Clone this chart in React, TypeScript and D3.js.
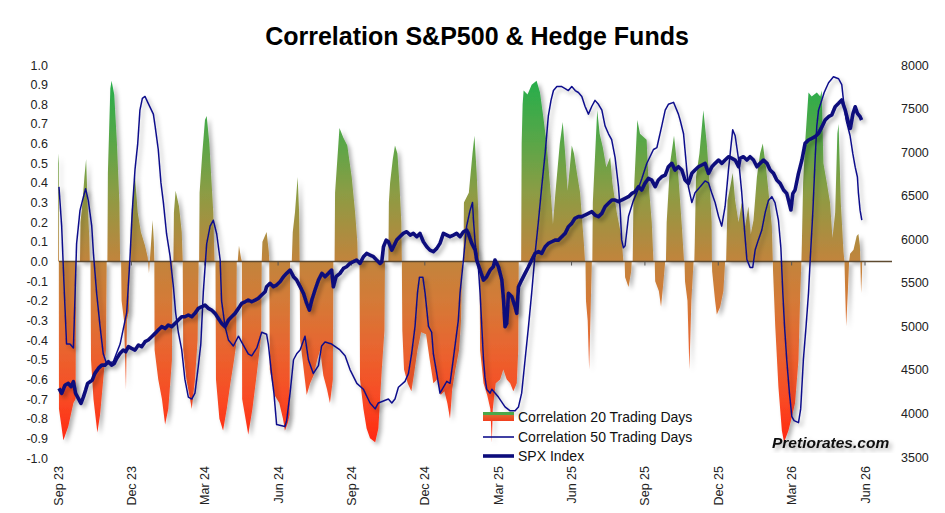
import React, { useEffect, useRef } from 'react';
import * as d3 from 'd3';

// x values are months since Sep 2023 (0 = Sep 23 label)
const quarterLabels = ['Sep 23', 'Dec 23', 'Mar 24', 'Jun 24', 'Sep 24', 'Dec 24', 'Mar 25', 'Jun 25', 'Sep 25', 'Dec 25', 'Mar 26', 'Jun 26'];
const corrTicks = [-1, -0.9, -0.8, -0.7, -0.6, -0.5, -0.4, -0.3, -0.2, -0.1, 0, 0.1, 0.2, 0.3, 0.4, 0.5, 0.6, 0.7, 0.8, 0.9, 1];
const spxTicks = [3500, 4000, 4500, 5000, 5500, 6000, 6500, 7000, 7500, 8000];

const corr20: [number, number][] = [
  [0.00, 0.55], [0.03, 0.5], [0.04, -0.75], [0.12, -0.82], [0.22, -0.91], [0.42, -0.84], [0.63, -0.72], [0.72, -0.7], [0.74, 0],
  [0.88, 0], [0.90, 0], [0.92, 0.2], [1.00, 0.3], [1.08, 0.43], [1.15, 0.52], [1.21, 0.30], [1.28, 0.12], [1.30, 0],
  [1.33, 0], [1.35, -0.5], [1.45, -0.7], [1.61, -0.87], [1.72, -0.78], [1.85, -0.6], [1.96, -0.45], [1.99, 0],
  [2.02, 0], [2.04, 0.45], [2.14, 0.88], [2.19, 0.92], [2.30, 0.85], [2.41, 0.6], [2.51, 0.3], [2.54, 0],
  [2.58, 0], [2.60, -0.2], [2.70, -0.3], [2.78, -0.65], [2.82, -0.3], [2.90, -0.25], [2.93, 0],
  [2.96, 0], [2.98, 0.2], [3.09, 0.38], [3.15, 0.43], [3.26, 0.25], [3.39, 0.15], [3.56, 0.08], [3.67, 0.02], [3.72, -0.06], [3.78, 0.05],
  [3.87, 0.21], [3.92, 0.1], [3.94, 0],
  [3.95, -0.45], [4.10, -0.6], [4.25, -0.7], [4.38, -0.83], [4.51, -0.75], [4.60, -0.6], [4.66, -0.5], [4.68, 0],
  [4.72, 0], [4.74, 0.25], [4.81, 0.36], [4.95, 0.28], [5.06, 0.15], [5.10, 0],
  [5.12, -0.45], [5.25, -0.6], [5.40, -0.7], [5.47, -0.75], [5.60, -0.6], [5.71, -0.4], [5.75, 0],
  [5.77, 0], [5.79, 0.35], [5.90, 0.55], [6.01, 0.72], [6.08, 0.74], [6.19, 0.6], [6.28, 0.4], [6.35, 0.25], [6.40, 0],
  [6.44, 0], [6.46, -0.6], [6.60, -0.8], [6.75, -0.86], [6.90, -0.75], [7.05, -0.62], [7.20, -0.5], [7.29, -0.42], [7.31, 0],
  [7.35, 0], [7.40, 0.08], [7.48, 0.02], [7.52, 0],
  [7.53, -0.7], [7.78, -0.88], [7.95, -0.75], [8.15, -0.55], [8.31, -0.38], [8.33, 0],
  [8.36, 0.1], [8.53, 0.15], [8.62, 0.05], [8.64, 0],
  [8.66, -0.55], [8.85, -0.68], [9.05, -0.72], [9.20, -0.80], [9.28, -0.86], [9.40, -0.82], [9.47, -0.78], [9.49, 0],
  [9.56, 0], [9.60, 0.15], [9.69, 0.25], [9.80, 0.43], [9.86, 0.25], [9.88, 0],
  [9.90, -0.4], [10.00, -0.5], [10.17, -0.68], [10.31, -0.62], [10.45, -0.58], [10.60, -0.5], [10.72, -0.45], [10.85, -0.58], [11.00, -0.65],
  [11.12, -0.72], [11.24, -0.6], [11.26, 0],
  [11.31, 0], [11.33, 0.35], [11.51, 0.68], [11.67, 0.63], [11.83, 0.59], [12.01, 0.43], [12.15, 0.25], [12.24, 0.1], [12.26, 0],
  [12.33, 0], [12.35, -0.6], [12.49, -0.75], [12.62, -0.85], [12.76, -0.9], [12.97, -0.92], [13.10, -0.85], [13.24, -0.55], [13.35, -0.35], [13.37, 0],
  [13.51, 0], [13.53, 0.3], [13.58, 0.4], [13.69, 0.52], [13.78, 0.59], [13.88, 0.55], [13.96, 0.4], [14.04, 0.2], [14.06, 0],
  [14.08, -0.35], [14.15, -0.55], [14.30, -0.62], [14.45, -0.66], [14.55, -0.58], [14.70, -0.45], [14.85, -0.36], [15.05, -0.37], [15.20, -0.5],
  [15.35, -0.62], [15.50, -0.6], [15.65, -0.68], [15.80, -0.66], [15.92, -0.72], [16.03, -0.80], [16.12, -0.65], [16.25, -0.55], [16.40, -0.45],
  [16.48, -0.3], [16.53, 0],
  [16.58, 0], [16.60, 0.3], [16.80, 0.35], [16.95, 0.55], [17.03, 0.64], [17.12, 0.45], [17.19, 0.25], [17.22, 0],
  [17.24, 0], [17.26, -0.45], [17.40, -0.62], [17.55, -0.68], [17.68, -0.75], [17.74, -0.92], [17.78, -0.75], [17.90, -0.62], [18.08, -0.6],
  [18.21, -0.55], [18.35, -0.6], [18.49, -0.62], [18.62, -0.66], [18.76, -0.62], [18.82, -0.45], [18.84, 0],
  [18.94, 0], [18.96, 0.6], [19.00, 0.80], [19.04, 0.87], [19.20, 0.85], [19.37, 0.90], [19.57, 0.92], [19.71, 0.86], [19.84, 0.74], [19.98, 0.6],
  [20.06, 0.48], [20.16, 0.33], [20.24, 0.19], [20.34, 0.35], [20.52, 0.6], [20.64, 0.71], [20.74, 0.55], [20.84, 0.36], [20.93, 0.48], [21.01, 0.59],
  [21.10, 0.55], [21.22, 0.45], [21.35, 0.35], [21.50, 0.1], [21.55, 0],
  [21.57, 0], [21.59, -0.2], [21.66, -0.3], [21.72, -0.55], [21.79, -0.2], [21.83, 0],
  [21.85, 0], [21.87, 0.3], [22.05, 0.77], [22.15, 0.65], [22.28, 0.58], [22.42, 0.48], [22.58, 0.53], [22.67, 0.4], [22.85, 0.25], [23.05, 0.12], [23.12, 0],
  [23.17, 0], [23.19, -0.08], [23.33, -0.13], [23.44, -0.05], [23.46, 0],
  [23.50, 0], [23.53, 0.3], [23.69, 0.72], [23.80, 0.65], [24.07, 0.62], [24.15, 0.4], [24.28, 0.2], [24.35, 0],
  [24.40, 0], [24.42, -0.1], [24.57, -0.15], [24.66, -0.23], [24.76, -0.1], [24.83, 0],
  [24.86, 0], [24.89, 0.2], [25.03, 0.5], [25.19, 0.64], [25.37, 0.43], [25.51, 0.18], [25.60, 0],
  [25.62, 0], [25.64, -0.1], [25.74, -0.2], [25.82, -0.55], [25.90, -0.2], [25.99, 0],
  [26.02, 0], [26.04, 0.1], [26.09, 0.43], [26.23, 0.55], [26.39, 0.77], [26.53, 0.6], [26.67, 0.35], [26.73, 0.2], [26.74, 0],
  [26.75, -0.05], [26.87, -0.2], [26.94, -0.27], [27.08, -0.23], [27.21, -0.15], [27.28, 0],
  [27.32, 0], [27.38, 0.31], [27.49, 0.38], [27.59, 0.45], [27.69, 0.31], [27.83, 0.2], [27.96, 0.3], [28.10, 0.18], [28.23, 0.28], [28.33, 0.14],
  [28.44, 0.21], [28.58, 0.43], [28.71, 0.55], [28.82, 0.6], [28.96, 0.47], [29.09, 0.31], [29.19, 0.18], [29.23, 0],
  [29.24, -0.05], [29.33, -0.33], [29.46, -0.64], [29.60, -0.86], [29.69, -0.92], [29.87, -0.86], [30.01, -0.79], [30.14, -0.72], [30.28, -0.5],
  [30.35, -0.17], [30.40, 0],
  [30.42, 0.1], [30.47, 0.4], [30.55, 0.6], [30.69, 0.86], [30.82, 0.84], [31.03, 0.86], [31.17, 0.84], [31.23, 0.87], [31.30, 0.5], [31.44, 0.4],
  [31.57, 0.3], [31.67, 0.12], [31.78, 0.25], [31.87, 0.65], [31.92, 0.70], [32.01, 0.3], [32.12, 0.05], [32.16, 0],
  [32.19, -0.15], [32.23, -0.33], [32.30, -0.15], [32.35, 0],
  [32.39, 0.04], [32.53, 0.06], [32.66, 0.13], [32.73, 0.14], [32.79, 0.08], [32.81, 0],
  [32.84, -0.16], [32.88, -0.05],
];

const corr50: [number, number][] = [
  [0.04, 0.38], [0.15, 0.18], [0.26, -0.16], [0.35, -0.42], [0.49, -0.42], [0.63, -0.44], [0.70, -0.16], [0.76, 0.09], [0.90, 0.26], [1.00, 0.31],
  [1.13, 0.37], [1.24, 0.31], [1.38, 0.18], [1.45, 0.04], [1.58, -0.16], [1.72, -0.33], [1.85, -0.47], [1.99, -0.52], [2.26, -0.51], [2.54, -0.42],
  [2.81, -0.26], [2.94, 0.01], [3.04, 0.26], [3.15, 0.47], [3.26, 0.60], [3.35, 0.77], [3.45, 0.83], [3.56, 0.84], [3.67, 0.81], [3.90, 0.75],
  [3.97, 0.69], [4.10, 0.57], [4.21, 0.40], [4.31, 0.30], [4.44, 0.14], [4.58, 0.03], [4.72, -0.13], [4.81, -0.26], [4.92, -0.36], [5.06, -0.45],
  [5.19, -0.60], [5.33, -0.69], [5.47, -0.70], [5.60, -0.67], [5.74, -0.53], [5.84, -0.42], [5.94, -0.16], [6.08, 0.09], [6.22, 0.18], [6.35, 0.21],
  [6.49, 0.14], [6.63, 0.01], [6.69, -0.20], [6.83, -0.33], [6.97, -0.40], [7.17, -0.43], [7.38, -0.38], [7.51, -0.41], [7.78, -0.47], [7.92, -0.48],
  [8.13, -0.44], [8.33, -0.36], [8.53, -0.37], [8.60, -0.42], [8.74, -0.58], [8.83, -0.67], [8.94, -0.83], [9.28, -0.84], [9.35, -0.81], [9.49, -0.67],
  [9.63, -0.50], [9.76, -0.47], [9.90, -0.45], [10.10, -0.38], [10.24, -0.50], [10.44, -0.57], [10.65, -0.53], [10.78, -0.43], [10.92, -0.41], [11.19, -0.42],
  [11.53, -0.45], [11.74, -0.48], [11.94, -0.55], [12.22, -0.62], [12.49, -0.65], [12.76, -0.72], [12.97, -0.75], [13.10, -0.72], [13.51, -0.70], [13.65, -0.72],
  [13.78, -0.70], [13.92, -0.64], [14.19, -0.61], [14.33, -0.57], [14.46, -0.47], [14.60, -0.33], [14.70, -0.16], [14.78, -0.08], [14.92, -0.08], [15.01, -0.16],
  [15.15, -0.33], [15.28, -0.36], [15.35, -0.47], [15.49, -0.57], [15.62, -0.67], [15.90, -0.61], [16.03, -0.62], [16.14, -0.52], [16.37, -0.30], [16.44, -0.16],
  [16.58, 0.01], [16.71, 0.18], [16.85, 0.26], [16.95, 0.30], [16.99, 0.21], [17.06, 0.09], [17.19, -0.03], [17.26, -0.16], [17.33, -0.33], [17.40, -0.50],
  [17.46, -0.59], [17.53, -0.65], [17.67, -0.67], [17.74, -0.65], [18.01, -0.69], [18.28, -0.74], [18.49, -0.76], [18.69, -0.76], [18.83, -0.74], [18.96, -0.67],
  [19.10, -0.50], [19.24, -0.33], [19.37, -0.16], [19.51, 0.04], [19.65, 0.21], [19.78, 0.38], [19.92, 0.55], [20.05, 0.74], [20.16, 0.82], [20.26, 0.87],
  [20.40, 0.89], [20.60, 0.89], [20.74, 0.88], [20.87, 0.87], [21.01, 0.89], [21.15, 0.87], [21.28, 0.86], [21.42, 0.84], [21.55, 0.79], [21.69, 0.75],
  [21.83, 0.79], [21.96, 0.82], [22.10, 0.80], [22.24, 0.77], [22.37, 0.69], [22.51, 0.65], [22.64, 0.62], [22.78, 0.53], [22.92, 0.38], [22.99, 0.26],
  [23.05, 0.11], [23.12, 0.07], [23.19, 0.08], [23.33, 0.23], [23.53, 0.31], [23.67, 0.35], [23.87, 0.42], [24.08, 0.50], [24.35, 0.57], [24.49, 0.58],
  [24.69, 0.69], [24.83, 0.77], [24.96, 0.80], [25.17, 0.81], [25.37, 0.75], [25.44, 0.72], [25.58, 0.65], [25.71, 0.47], [25.78, 0.38], [25.92, 0.30],
  [26.05, 0.35], [26.26, 0.38], [26.46, 0.41], [26.60, 0.40], [26.73, 0.35], [26.87, 0.30], [27.01, 0.23], [27.14, 0.18], [27.28, 0.28], [27.42, 0.47],
  [27.53, 0.60], [27.59, 0.67], [27.69, 0.64], [27.83, 0.52], [27.96, 0.35], [28.06, 0.18], [28.17, 0.01], [28.30, -0.03], [28.41, -0.03], [28.51, 0.06],
  [28.64, 0.11], [28.78, 0.16], [28.92, 0.25], [29.05, 0.31], [29.19, 0.33], [29.32, 0.30], [29.46, 0.21], [29.56, 0.07], [29.64, -0.16], [29.71, -0.33],
  [29.80, -0.50], [29.91, -0.67], [30.01, -0.79], [30.10, -0.81], [30.28, -0.82], [30.37, -0.75], [30.48, -0.50], [30.59, -0.33], [30.69, -0.16], [30.76, 0.01],
  [30.87, 0.26], [30.96, 0.52], [31.03, 0.69], [31.10, 0.77], [31.23, 0.82], [31.33, 0.86], [31.51, 0.91], [31.71, 0.94], [31.92, 0.93], [32.05, 0.90],
  [32.12, 0.82], [32.23, 0.72], [32.39, 0.64], [32.50, 0.55], [32.60, 0.48], [32.69, 0.43], [32.73, 0.35], [32.80, 0.26], [32.87, 0.21],
];

const spx: [number, number][] = [
  [0.04, 4287], [0.15, 4230], [0.29, 4326], [0.42, 4345], [0.53, 4307], [0.63, 4364], [0.72, 4230], [0.83, 4173], [0.94, 4115], [1.04, 4190],
  [1.13, 4268], [1.21, 4345], [1.31, 4364], [1.40, 4383], [1.51, 4460], [1.65, 4517], [1.79, 4555], [1.92, 4555], [2.06, 4594], [2.19, 4555],
  [2.30, 4574], [2.40, 4632], [2.54, 4690], [2.67, 4728], [2.77, 4709], [2.88, 4766], [3.01, 4747], [3.15, 4728], [3.29, 4785], [3.42, 4766],
  [3.56, 4824], [3.69, 4843], [3.83, 4881], [3.97, 4919], [4.10, 4957], [4.24, 4996], [4.38, 4976], [4.51, 5015], [4.65, 4996], [4.79, 5034],
  [4.92, 5072], [5.06, 5110], [5.19, 5110], [5.33, 5130], [5.47, 5110], [5.60, 5149], [5.74, 5206], [5.88, 5225], [6.01, 5244], [6.15, 5206],
  [6.28, 5187], [6.42, 5149], [6.56, 5091], [6.69, 5034], [6.83, 4996], [6.97, 5072], [7.10, 5110], [7.24, 5149], [7.38, 5206], [7.51, 5263],
  [7.65, 5282], [7.78, 5302], [7.92, 5282], [8.06, 5302], [8.19, 5321], [8.33, 5359], [8.47, 5397], [8.53, 5455], [8.67, 5493], [8.81, 5455],
  [8.94, 5474], [9.08, 5512], [9.22, 5570], [9.35, 5608], [9.49, 5646], [9.63, 5570], [9.76, 5531], [9.90, 5455], [10.04, 5378], [10.17, 5263],
  [10.28, 5187], [10.38, 5302], [10.51, 5417], [10.65, 5531], [10.79, 5608], [10.92, 5570], [11.06, 5608], [11.19, 5646], [11.26, 5455], [11.37, 5570],
  [11.53, 5608], [11.67, 5665], [11.80, 5684], [11.94, 5723], [12.08, 5742], [12.21, 5761], [12.35, 5723], [12.49, 5799], [12.62, 5837], [12.76, 5818],
  [12.90, 5799], [13.03, 5761], [13.17, 5723], [13.24, 5742], [13.31, 5914], [13.42, 5990], [13.51, 5971], [13.65, 5875], [13.72, 5914], [13.85, 5990],
  [13.98, 6029], [14.12, 6067], [14.26, 6086], [14.40, 6048], [14.53, 6067], [14.67, 6029], [14.80, 6067], [14.94, 5971], [15.08, 5914], [15.21, 5875],
  [15.35, 5857], [15.49, 5895], [15.62, 5952], [15.76, 6067], [15.90, 6048], [16.03, 6029], [16.17, 6048], [16.30, 6067], [16.44, 6029], [16.58, 6086],
  [16.71, 6105], [16.78, 6067], [16.92, 5952], [17.06, 5875], [17.12, 5761], [17.26, 5646], [17.40, 5531], [17.53, 5570], [17.67, 5646], [17.80, 5684],
  [17.87, 5761], [18.01, 5684], [18.15, 5531], [18.22, 5302], [18.28, 4996], [18.35, 5034], [18.42, 5378], [18.56, 5340], [18.69, 5225], [18.76, 5149],
  [18.83, 5455], [18.96, 5531], [19.10, 5608], [19.24, 5684], [19.37, 5761], [19.51, 5837], [19.65, 5857], [19.78, 5837], [19.92, 5914], [20.05, 5952],
  [20.19, 5971], [20.33, 5990], [20.47, 5990], [20.60, 6029], [20.74, 6067], [20.87, 6144], [21.01, 6182], [21.14, 6240], [21.28, 6259], [21.42, 6259],
  [21.55, 6278], [21.69, 6297], [21.83, 6316], [21.96, 6278], [22.10, 6259], [22.24, 6297], [22.37, 6373], [22.51, 6412], [22.65, 6450], [22.78, 6450],
  [22.92, 6431], [23.05, 6450], [23.19, 6469], [23.33, 6488], [23.47, 6526], [23.60, 6545], [23.74, 6603], [23.87, 6565], [24.00, 6641], [24.14, 6698],
  [24.28, 6679], [24.42, 6603], [24.55, 6679], [24.69, 6718], [24.83, 6737], [24.96, 6832], [25.10, 6871], [25.23, 6794], [25.37, 6832], [25.51, 6794],
  [25.64, 6679], [25.78, 6640], [25.92, 6756], [26.05, 6794], [26.19, 6832], [26.33, 6852], [26.46, 6871], [26.60, 6756], [26.74, 6832], [26.87, 6871],
  [27.01, 6909], [27.15, 6871], [27.28, 6909], [27.42, 6947], [27.56, 6928], [27.69, 6909], [27.83, 6832], [27.89, 6928], [28.03, 6947], [28.17, 6909],
  [28.30, 6947], [28.44, 6909], [28.58, 6832], [28.71, 6871], [28.85, 6909], [28.99, 6871], [29.12, 6794], [29.26, 6756], [29.39, 6679], [29.53, 6641],
  [29.67, 6565], [29.80, 6526], [29.87, 6450], [29.97, 6335], [30.05, 6526], [30.14, 6565], [30.28, 6756], [30.42, 6909], [30.55, 7100], [30.69, 7139],
  [30.83, 7158], [30.96, 7177], [31.10, 7215], [31.24, 7292], [31.37, 7368], [31.51, 7407], [31.64, 7426], [31.78, 7521], [31.92, 7560], [32.05, 7598],
  [32.19, 7483], [32.33, 7330], [32.40, 7272], [32.51, 7445], [32.60, 7521], [32.69, 7445], [32.80, 7407], [32.86, 7368],
];

const W = 945;
const H = 513;
const FONT = '"Liberation Sans", Arial, sans-serif';

export default function App() {
  const svgRef = useRef<SVGSVGElement>(null);

  useEffect(() => {
    if (!svgRef.current) return;
    const svg = d3.select(svgRef.current);
    svg.selectAll('*').remove();

    const x = d3.scaleLinear().domain([0, 33]).range([58, 865]);
    const yL = d3.scaleLinear().domain([-1, 1]).range([458, 65]);
    const yR = d3.scaleLinear().domain([3500, 8000]).range([457, 65]);

    const defs = svg.append('defs');

    // vertical colour ramp green -> brown -> red, tied to the correlation scale
    const grad = defs.append('linearGradient')
      .attr('id', 'corrGrad')
      .attr('gradientUnits', 'userSpaceOnUse')
      .attr('x1', 0).attr('x2', 0)
      .attr('y1', yL(1)).attr('y2', yL(-1));
    const stops: [number, string][] = [
      [1, '#1fae4a'], [0.85, '#31ac4b'], [0.6, '#5ba647'], [0.35, '#8c9c44'], [0.1, '#b28a3f'],
      [0, '#c2843c'], [-0.2, '#d47a37'], [-0.45, '#e9642f'], [-0.7, '#f94a24'], [-0.9, '#ff2a12'], [-1, '#ff2010'],
    ];
    stops.forEach(([v, c]) => {
      grad.append('stop').attr('offset', (1 - v) / 2).attr('stop-color', c);
    });

    const shadow = defs.append('filter').attr('id', 'shadow')
      .attr('x', '-5%').attr('y', '-5%').attr('width', '115%').attr('height', '115%');
    shadow.append('feDropShadow')
      .attr('dx', 3).attr('dy', 3).attr('stdDeviation', 2)
      .attr('flood-color', '#000').attr('flood-opacity', 0.3);

    const legGrad = defs.append('linearGradient').attr('id', 'legGrad')
      .attr('x1', 0).attr('x2', 0).attr('y1', 0).attr('y2', 1);
    legGrad.append('stop').attr('offset', 0).attr('stop-color', '#4aa84a');
    legGrad.append('stop').attr('offset', 0.35).attr('stop-color', '#4aa84a');
    legGrad.append('stop').attr('offset', 0.36).attr('stop-color', '#e0652e');
    legGrad.append('stop').attr('offset', 1).attr('stop-color', '#f23e1e');

    // title
    svg.append('text')
      .attr('x', 477).attr('y', 45)
      .attr('text-anchor', 'middle')
      .attr('font-family', FONT).attr('font-weight', 'bold').attr('font-size', 25)
      .attr('fill', '#000')
      .text('Correlation S&P500 & Hedge Funds');

    // left axis labels
    svg.append('g').selectAll('text')
      .data(corrTicks)
      .enter().append('text')
      .attr('x', 48).attr('y', (d) => yL(d))
      .attr('dy', '0.36em')
      .attr('text-anchor', 'end')
      .attr('font-family', FONT).attr('font-size', 12.5).attr('fill', '#222')
      .text((d) => d.toFixed(1));

    // right axis labels
    svg.append('g').selectAll('text')
      .data(spxTicks)
      .enter().append('text')
      .attr('x', 901).attr('y', (d) => yR(d))
      .attr('dy', '0.36em')
      .attr('font-family', FONT).attr('font-size', 12.5).attr('fill', '#222')
      .text((d) => String(d));

    // x labels, rotated
    svg.append('g').selectAll('text')
      .data(quarterLabels)
      .enter().append('text')
      .attr('transform', (_d, i) => `translate(${x(i * 3)},466) rotate(-90)`)
      .attr('dy', '0.36em')
      .attr('text-anchor', 'end')
      .attr('font-family', FONT).attr('font-size', 12.5).attr('fill', '#222')
      .text((d) => d);

    const plot = svg.append('g');

    // 20 day correlation area
    const area = d3.area<[number, number]>()
      .x((d) => x(d[0]))
      .y0(yL(0))
      .y1((d) => yL(d[1]));
    plot.append('path')
      .datum(corr20)
      .attr('d', area)
      .attr('fill', 'url(#corrGrad)')
      .attr('filter', 'url(#shadow)');

    // zero line with quarter ticks
    plot.append('line')
      .attr('x1', 59).attr('x2', 892)
      .attr('y1', yL(0)).attr('y2', yL(0))
      .attr('stroke', '#5e4a30').attr('stroke-width', 1.3);
    plot.append('g').selectAll('line')
      .data(quarterLabels.slice(1))
      .enter().append('line')
      .attr('x1', (_d, i) => x((i + 1) * 3)).attr('x2', (_d, i) => x((i + 1) * 3))
      .attr('y1', yL(0)).attr('y2', yL(0) + 4)
      .attr('stroke', '#555').attr('stroke-width', 1);

    // 50 day correlation
    const line50 = d3.line<[number, number]>()
      .x((d) => x(d[0]))
      .y((d) => yL(d[1]));
    plot.append('path')
      .datum(corr50)
      .attr('d', line50)
      .attr('fill', 'none')
      .attr('stroke', '#10108c').attr('stroke-width', 1.5)
      .attr('stroke-linejoin', 'round')
      .attr('filter', 'url(#shadow)');

    // SPX index
    const lineSpx = d3.line<[number, number]>()
      .x((d) => x(d[0]))
      .y((d) => yR(d[1]));
    plot.append('path')
      .datum(spx)
      .attr('d', lineSpx)
      .attr('fill', 'none')
      .attr('stroke', '#0c0c7c').attr('stroke-width', 3.6)
      .attr('stroke-linejoin', 'round')
      .attr('filter', 'url(#shadow)');

    // legend
    const leg = svg.append('g').attr('font-family', FONT).attr('font-size', 14).attr('fill', '#111');
    leg.append('rect').attr('x', 483).attr('y', 412).attr('width', 31).attr('height', 9).attr('fill', 'url(#legGrad)');
    leg.append('text').attr('x', 518).attr('y', 421.5).text('Correlation 20 Trading Days');
    leg.append('line').attr('x1', 483).attr('x2', 514).attr('y1', 437).attr('y2', 437)
      .attr('stroke', '#10108c').attr('stroke-width', 1.6);
    leg.append('text').attr('x', 518).attr('y', 441.5).text('Correlation 50 Trading Days');
    leg.append('line').attr('x1', 483).attr('x2', 514).attr('y1', 456).attr('y2', 456)
      .attr('stroke', '#0c0c7c').attr('stroke-width', 3.6);
    leg.append('text').attr('x', 518).attr('y', 460.5).text('SPX Index');

    // watermark
    svg.append('text')
      .attr('x', 772).attr('y', 448)
      .attr('font-family', FONT).attr('font-weight', 'bold').attr('font-style', 'italic')
      .attr('font-size', 15.5).attr('fill', '#111')
      .attr('filter', 'url(#shadow)')
      .text('Pretiorates.com');
  }, []);

  return (
    <svg
      ref={svgRef}
      width={W}
      height={H}
      style={{ position: 'absolute', left: 0, top: 0, background: '#fff' }}
      role="img"
      aria-label="Correlation S&P500 & Hedge Funds"
    />
  );
}
